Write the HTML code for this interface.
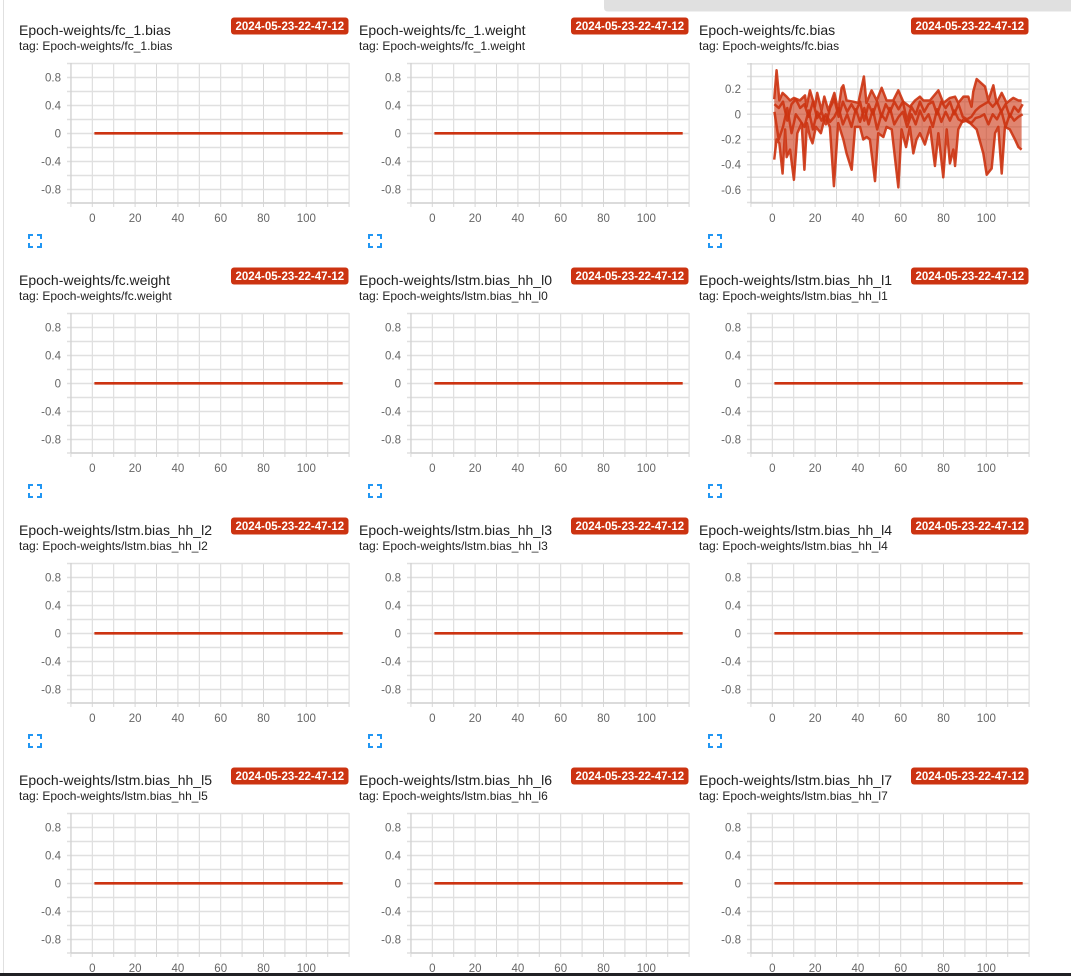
<!DOCTYPE html>
<html><head><meta charset="utf-8"><style>
html,body{margin:0;padding:0;background:#fff;width:1071px;height:976px;overflow:hidden}
svg{display:block}
.t{font:14px "Liberation Sans",sans-serif;fill:#212121}
.g{font:12px "Liberation Sans",sans-serif;fill:#212121}
.b{font:bold 11.5px "Liberation Sans",sans-serif;fill:#fff;text-anchor:middle}
.y{font:11.5px "Liberation Sans",sans-serif;fill:#666;text-anchor:end}
.x{font:11.5px "Liberation Sans",sans-serif;fill:#666;text-anchor:middle}
</style></head><body>
<svg width="1071" height="976" viewBox="0 0 1071 976" xmlns="http://www.w3.org/2000/svg">
<defs>
<g id="common">
<rect x="231" y="17.5" width="117.5" height="17" rx="3" fill="#cc3311"/>
<path d="M29 239V235H33M37 235H41V239M29 243V247H33M37 247H41V243" stroke="#2196f3" stroke-width="2" fill="none"/>
<path d="M70.9 63V207M92.3 63V207M113.7 63V207M135.1 63V207M156.5 63V207M177.9 63V207M199.3 63V207M220.7 63V207M242.1 63V207M263.5 63V207M284.9 63V207M306.3 63V207M327.7 63V207M349.1 63V207" stroke="#d8d8d8" stroke-width="1" fill="none"/>
</g>
<g id="flat">
<use href="#common"/>
<path d="M67 63.5H349M67 77.5H349M67 91.5H349M67 105.5H349M67 119.5H349M67 133.5H349M67 147.5H349M67 161.5H349M67 175.5H349M67 189.5H349M67 203H349" stroke="#e0e0e0" stroke-width="1.5" fill="none"/>
<path d="M71 63V203M71 203H349" stroke="#cfcfcf" stroke-width="1.2" fill="none"/>
<path d="M94.4 133.3H342.7" stroke="#cc3311" stroke-width="2.7"/>
</g>
</defs>

<rect x="3" y="0" width="1" height="976" fill="#e0e0e0"/>
<path d="M604 0H1071V11.5H608Q604 11.5 604 7.5Z" fill="#e0e0e0"/>

<!-- Row 0 -->
<g transform="translate(0,0)">
<use href="#flat"/>
<text class="t" x="19" y="35">Epoch-weights/fc_1.bias</text>
<text class="g" x="19" y="50">tag: Epoch-weights/fc_1.bias</text>
<text class="b" x="289.8" y="30">2024-05-23-22-47-12</text>
<text class="y" x="61" y="81.3">0.8</text><text class="y" x="61" y="109.3">0.4</text><text class="y" x="61" y="137.3">0</text><text class="y" x="61" y="165.3">-0.4</text><text class="y" x="61" y="193.3">-0.8</text>
<text class="x" x="92.3" y="222">0</text><text class="x" x="135.1" y="222">20</text><text class="x" x="177.9" y="222">40</text><text class="x" x="220.7" y="222">60</text><text class="x" x="263.5" y="222">80</text><text class="x" x="306.3" y="222">100</text>
</g>
<g transform="translate(340,0)">
<use href="#flat"/>
<text class="t" x="19" y="35">Epoch-weights/fc_1.weight</text>
<text class="g" x="19" y="50">tag: Epoch-weights/fc_1.weight</text>
<text class="b" x="289.8" y="30">2024-05-23-22-47-12</text>
<text class="y" x="61" y="81.3">0.8</text><text class="y" x="61" y="109.3">0.4</text><text class="y" x="61" y="137.3">0</text><text class="y" x="61" y="165.3">-0.4</text><text class="y" x="61" y="193.3">-0.8</text>
<text class="x" x="92.3" y="222">0</text><text class="x" x="135.1" y="222">20</text><text class="x" x="177.9" y="222">40</text><text class="x" x="220.7" y="222">60</text><text class="x" x="263.5" y="222">80</text><text class="x" x="306.3" y="222">100</text>
</g>
<g transform="translate(680,0)">
<use href="#common"/>
<path d="M67 63.9H349M67 76.5H349M67 89.1H349M67 101.7H349M67 114.3H349M67 126.9H349M67 139.5H349M67 152.1H349M67 164.7H349M67 177.3H349M67 189.9H349M67 202.5H349" stroke="#e0e0e0" stroke-width="1.5" fill="none"/>
<path d="M71 63V203M71 203H349" stroke="#cfcfcf" stroke-width="1.2" fill="none"/>
<text class="t" x="19" y="35">Epoch-weights/fc.bias</text>
<text class="g" x="19" y="50">tag: Epoch-weights/fc.bias</text>
<text class="b" x="289.8" y="30">2024-05-23-22-47-12</text>
<text class="y" x="61" y="93.1">0.2</text><text class="y" x="61" y="118.3">0</text><text class="y" x="61" y="143.5">-0.2</text><text class="y" x="61" y="168.7">-0.4</text><text class="y" x="61" y="193.9">-0.6</text>
<text class="x" x="92.3" y="222">0</text><text class="x" x="135.1" y="222">20</text><text class="x" x="177.9" y="222">40</text><text class="x" x="220.7" y="222">60</text><text class="x" x="263.5" y="222">80</text><text class="x" x="306.3" y="222">100</text>
<g transform="translate(92.3,114.3) scale(2.14,-126)">
<polygon fill="#cc3311" fill-opacity="0.6" points="0.9,0.12 2,0.35 3.3,0.11 4.8,0.17 6.7,0.14 8.3,0.11 10.1,0.13 12.9,0.11 15.3,0.15 16,0.06 17.6,0.19 19.9,0.06 21,0.17 23,0.03 24.3,0.14 26.2,0.03 29,0.17 30.8,0.03 32.4,0.21 33.2,0.23 34.7,0.11 37.9,0.1 40.2,0.09 42.8,0.3 44,0.09 46.4,0.19 48.8,0.11 51.1,0.21 53.4,0.11 56.5,0.11 58.9,0.19 61.2,0.1 64.3,0.06 66.7,0.11 69,0.14 70.6,0.11 73.7,0.11 77.6,0.19 79.9,0.09 83,0.13 85.4,0.14 86.9,0.09 89.3,0.14 91.6,0.14 93.1,0.06 93.9,0.18 95.5,0.28 99.4,0.22 101,0.11 103.3,0.23 104.8,0.09 107.2,0.17 109.5,0.09 111,0.11 112.6,0.13 115,0.11 116.5,0.11 116.5,-0.28 115,-0.26 113.4,-0.2 111,-0.12 108.7,-0.1 107.2,-0.47 105.6,-0.1 104.1,-0.15 102.5,-0.43 100.2,-0.48 98.6,-0.31 95.5,-0.12 92.4,-0.07 89.3,-0.04 86.9,-0.12 85.4,-0.41 84.6,-0.28 83,-0.39 81.5,-0.12 79.9,-0.5 77.6,-0.15 76,-0.41 73.7,-0.1 71.3,-0.24 69,-0.15 67.4,-0.2 65.9,-0.31 64.3,-0.1 62.5,-0.26 60.4,-0.12 58.9,-0.58 55.8,-0.12 53.4,-0.1 51.9,-0.18 49.5,-0.15 48,-0.53 45.6,-0.2 44.1,-0.18 42.5,-0.2 41,-0.1 38.7,-0.1 37.1,-0.44 34.7,-0.31 33.2,-0.2 30.8,-0.07 28.8,-0.57 26.9,-0.1 24.6,-0.02 22.7,-0.15 20.4,-0.1 18.8,-0.23 17.6,-0.18 16.2,-0.07 15,-0.44 13.7,-0.07 11.7,-0.15 10.1,-0.52 8.3,-0.28 6.7,-0.34 6,-0.12 4.8,-0.47 3.3,-0.23 2,-0.2 0.9,-0.36"/>
<g fill="none" stroke="#cc3311" stroke-width="2.5" stroke-linejoin="round" stroke-opacity="0.9">
<polyline vector-effect="non-scaling-stroke" points="0.9,0.12 2,0.35 3.3,0.11 4.8,0.17 6.7,0.14 8.3,0.11 10.1,0.13 12.9,0.11 15.3,0.15 16,0.06 17.6,0.19 19.9,0.06 21,0.17 23,0.03 24.3,0.14 26.2,0.03 29,0.17 30.8,0.03 32.4,0.21 33.2,0.23 34.7,0.11 37.9,0.1 40.2,0.09 42.8,0.3 44,0.09 46.4,0.19 48.8,0.11 51.1,0.21 53.4,0.11 56.5,0.11 58.9,0.19 61.2,0.1 64.3,0.06 66.7,0.11 69,0.14 70.6,0.11 73.7,0.11 77.6,0.19 79.9,0.09 83,0.13 85.4,0.14 86.9,0.09 89.3,0.14 91.6,0.14 93.1,0.06 93.9,0.18 95.5,0.28 99.4,0.22 101,0.11 103.3,0.23 104.8,0.09 107.2,0.17 109.5,0.09 111,0.11 112.6,0.13 115,0.11 116.5,0.11"/>
<polyline vector-effect="non-scaling-stroke" points="0.9,-0.36 2,-0.2 3.3,-0.23 4.8,-0.47 6,-0.12 6.7,-0.34 8.3,-0.28 10.1,-0.52 11.7,-0.15 13.7,-0.07 15,-0.44 16.2,-0.07 17.6,-0.18 18.8,-0.23 20.4,-0.1 22.7,-0.15 24.6,-0.02 26.9,-0.1 28.8,-0.57 30.8,-0.07 33.2,-0.2 34.7,-0.31 37.1,-0.44 38.7,-0.1 41,-0.1 42.5,-0.2 44.1,-0.18 45.6,-0.2 48,-0.53 49.5,-0.15 51.9,-0.18 53.4,-0.1 55.8,-0.12 58.9,-0.58 60.4,-0.12 62.5,-0.26 64.3,-0.1 65.9,-0.31 67.4,-0.2 69,-0.15 71.3,-0.24 73.7,-0.1 76,-0.41 77.6,-0.15 79.9,-0.5 81.5,-0.12 83,-0.39 84.6,-0.28 85.4,-0.41 86.9,-0.12 89.3,-0.04 92.4,-0.07 95.5,-0.12 98.6,-0.31 100.2,-0.48 102.5,-0.43 104.1,-0.15 105.6,-0.1 107.2,-0.47 108.7,-0.1 111,-0.12 113.4,-0.2 115,-0.26 116.5,-0.28"/>
<polyline vector-effect="non-scaling-stroke" points="1,0.08 3,0.05 5,0.1 7,-0.05 9,0.08 11,0.12 13,0.05 15,0.08 17,-0.02 19,0.1 21,-0.03 23,0.02 25,-0.08 27,0.05 29,0.12 31,-0.02 33,0.1 35,0.02 37,0.08 39,0.02 41,0.1 43,-0.05 45,0.08 47,0 49,0.1 51,-0.02 53,0.08 55,0.02 57,0.1 59,0.04 61,0.1 63,-0.05 65,0.06 67,0 69,0.1 71,0.02 73,0.08 75,0.1 77,0 79,0.1 81,0.05 83,0.1 85,0 87,0.08 89,-0.02 91,-0.04 93,-0.02 95,0.03 97,0.06 99,0.08 101,0.1 103,0.06 105,0.1 107,0.02 109,0.08 111,-0.02 113,0.06 115,0.02 117,0.08"/>
<polyline vector-effect="non-scaling-stroke" points="1,0.02 3,-0.2 5,-0.1 7,0.05 9,-0.15 11,0 13,-0.05 15,-0.1 17,0.03 19,-0.12 21,0.02 23,-0.05 25,0 27,-0.06 29,-0.02 31,0.05 33,-0.08 35,0 37,-0.1 39,0.04 41,-0.06 43,0.05 45,-0.08 47,0.04 49,-0.12 51,0 53,-0.05 55,0.05 57,-0.08 59,-0.02 61,0.02 63,-0.1 65,0 67,-0.08 69,0.03 71,-0.05 73,0 75,-0.1 77,0.04 79,-0.06 81,0.02 83,-0.05 85,0.03 87,-0.04 89,-0.06 91,-0.05 93,-0.07 95,-0.03 97,-0.02 99,0 101,-0.08 103,0 105,-0.04 107,0.03 109,-0.1 111,0 113,-0.05 115,-0.02 117,0"/>
</g>
</g>
</g>

<!-- Row 1 -->
<g transform="translate(0,250)">
<use href="#flat"/>
<text class="t" x="19" y="35">Epoch-weights/fc.weight</text>
<text class="g" x="19" y="50">tag: Epoch-weights/fc.weight</text>
<text class="b" x="289.8" y="30">2024-05-23-22-47-12</text>
<text class="y" x="61" y="81.3">0.8</text><text class="y" x="61" y="109.3">0.4</text><text class="y" x="61" y="137.3">0</text><text class="y" x="61" y="165.3">-0.4</text><text class="y" x="61" y="193.3">-0.8</text>
<text class="x" x="92.3" y="222">0</text><text class="x" x="135.1" y="222">20</text><text class="x" x="177.9" y="222">40</text><text class="x" x="220.7" y="222">60</text><text class="x" x="263.5" y="222">80</text><text class="x" x="306.3" y="222">100</text>
</g>
<g transform="translate(340,250)">
<use href="#flat"/>
<text class="t" x="19" y="35">Epoch-weights/lstm.bias_hh_l0</text>
<text class="g" x="19" y="50">tag: Epoch-weights/lstm.bias_hh_l0</text>
<text class="b" x="289.8" y="30">2024-05-23-22-47-12</text>
<text class="y" x="61" y="81.3">0.8</text><text class="y" x="61" y="109.3">0.4</text><text class="y" x="61" y="137.3">0</text><text class="y" x="61" y="165.3">-0.4</text><text class="y" x="61" y="193.3">-0.8</text>
<text class="x" x="92.3" y="222">0</text><text class="x" x="135.1" y="222">20</text><text class="x" x="177.9" y="222">40</text><text class="x" x="220.7" y="222">60</text><text class="x" x="263.5" y="222">80</text><text class="x" x="306.3" y="222">100</text>
</g>
<g transform="translate(680,250)">
<use href="#flat"/>
<text class="t" x="19" y="35">Epoch-weights/lstm.bias_hh_l1</text>
<text class="g" x="19" y="50">tag: Epoch-weights/lstm.bias_hh_l1</text>
<text class="b" x="289.8" y="30">2024-05-23-22-47-12</text>
<text class="y" x="61" y="81.3">0.8</text><text class="y" x="61" y="109.3">0.4</text><text class="y" x="61" y="137.3">0</text><text class="y" x="61" y="165.3">-0.4</text><text class="y" x="61" y="193.3">-0.8</text>
<text class="x" x="92.3" y="222">0</text><text class="x" x="135.1" y="222">20</text><text class="x" x="177.9" y="222">40</text><text class="x" x="220.7" y="222">60</text><text class="x" x="263.5" y="222">80</text><text class="x" x="306.3" y="222">100</text>
</g>

<!-- Row 2 -->
<g transform="translate(0,500)">
<use href="#flat"/>
<text class="t" x="19" y="35">Epoch-weights/lstm.bias_hh_l2</text>
<text class="g" x="19" y="50">tag: Epoch-weights/lstm.bias_hh_l2</text>
<text class="b" x="289.8" y="30">2024-05-23-22-47-12</text>
<text class="y" x="61" y="81.3">0.8</text><text class="y" x="61" y="109.3">0.4</text><text class="y" x="61" y="137.3">0</text><text class="y" x="61" y="165.3">-0.4</text><text class="y" x="61" y="193.3">-0.8</text>
<text class="x" x="92.3" y="222">0</text><text class="x" x="135.1" y="222">20</text><text class="x" x="177.9" y="222">40</text><text class="x" x="220.7" y="222">60</text><text class="x" x="263.5" y="222">80</text><text class="x" x="306.3" y="222">100</text>
</g>
<g transform="translate(340,500)">
<use href="#flat"/>
<text class="t" x="19" y="35">Epoch-weights/lstm.bias_hh_l3</text>
<text class="g" x="19" y="50">tag: Epoch-weights/lstm.bias_hh_l3</text>
<text class="b" x="289.8" y="30">2024-05-23-22-47-12</text>
<text class="y" x="61" y="81.3">0.8</text><text class="y" x="61" y="109.3">0.4</text><text class="y" x="61" y="137.3">0</text><text class="y" x="61" y="165.3">-0.4</text><text class="y" x="61" y="193.3">-0.8</text>
<text class="x" x="92.3" y="222">0</text><text class="x" x="135.1" y="222">20</text><text class="x" x="177.9" y="222">40</text><text class="x" x="220.7" y="222">60</text><text class="x" x="263.5" y="222">80</text><text class="x" x="306.3" y="222">100</text>
</g>
<g transform="translate(680,500)">
<use href="#flat"/>
<text class="t" x="19" y="35">Epoch-weights/lstm.bias_hh_l4</text>
<text class="g" x="19" y="50">tag: Epoch-weights/lstm.bias_hh_l4</text>
<text class="b" x="289.8" y="30">2024-05-23-22-47-12</text>
<text class="y" x="61" y="81.3">0.8</text><text class="y" x="61" y="109.3">0.4</text><text class="y" x="61" y="137.3">0</text><text class="y" x="61" y="165.3">-0.4</text><text class="y" x="61" y="193.3">-0.8</text>
<text class="x" x="92.3" y="222">0</text><text class="x" x="135.1" y="222">20</text><text class="x" x="177.9" y="222">40</text><text class="x" x="220.7" y="222">60</text><text class="x" x="263.5" y="222">80</text><text class="x" x="306.3" y="222">100</text>
</g>

<!-- Row 3 -->
<g transform="translate(0,750)">
<use href="#flat"/>
<text class="t" x="19" y="35">Epoch-weights/lstm.bias_hh_l5</text>
<text class="g" x="19" y="50">tag: Epoch-weights/lstm.bias_hh_l5</text>
<text class="b" x="289.8" y="30">2024-05-23-22-47-12</text>
<text class="y" x="61" y="81.3">0.8</text><text class="y" x="61" y="109.3">0.4</text><text class="y" x="61" y="137.3">0</text><text class="y" x="61" y="165.3">-0.4</text><text class="y" x="61" y="193.3">-0.8</text>
<text class="x" x="92.3" y="222">0</text><text class="x" x="135.1" y="222">20</text><text class="x" x="177.9" y="222">40</text><text class="x" x="220.7" y="222">60</text><text class="x" x="263.5" y="222">80</text><text class="x" x="306.3" y="222">100</text>
</g>
<g transform="translate(340,750)">
<use href="#flat"/>
<text class="t" x="19" y="35">Epoch-weights/lstm.bias_hh_l6</text>
<text class="g" x="19" y="50">tag: Epoch-weights/lstm.bias_hh_l6</text>
<text class="b" x="289.8" y="30">2024-05-23-22-47-12</text>
<text class="y" x="61" y="81.3">0.8</text><text class="y" x="61" y="109.3">0.4</text><text class="y" x="61" y="137.3">0</text><text class="y" x="61" y="165.3">-0.4</text><text class="y" x="61" y="193.3">-0.8</text>
<text class="x" x="92.3" y="222">0</text><text class="x" x="135.1" y="222">20</text><text class="x" x="177.9" y="222">40</text><text class="x" x="220.7" y="222">60</text><text class="x" x="263.5" y="222">80</text><text class="x" x="306.3" y="222">100</text>
</g>
<g transform="translate(680,750)">
<use href="#flat"/>
<text class="t" x="19" y="35">Epoch-weights/lstm.bias_hh_l7</text>
<text class="g" x="19" y="50">tag: Epoch-weights/lstm.bias_hh_l7</text>
<text class="b" x="289.8" y="30">2024-05-23-22-47-12</text>
<text class="y" x="61" y="81.3">0.8</text><text class="y" x="61" y="109.3">0.4</text><text class="y" x="61" y="137.3">0</text><text class="y" x="61" y="165.3">-0.4</text><text class="y" x="61" y="193.3">-0.8</text>
<text class="x" x="92.3" y="222">0</text><text class="x" x="135.1" y="222">20</text><text class="x" x="177.9" y="222">40</text><text class="x" x="220.7" y="222">60</text><text class="x" x="263.5" y="222">80</text><text class="x" x="306.3" y="222">100</text>
</g>

<rect x="0" y="973" width="1071" height="3" fill="#202124"/>
</svg>
</body></html>
